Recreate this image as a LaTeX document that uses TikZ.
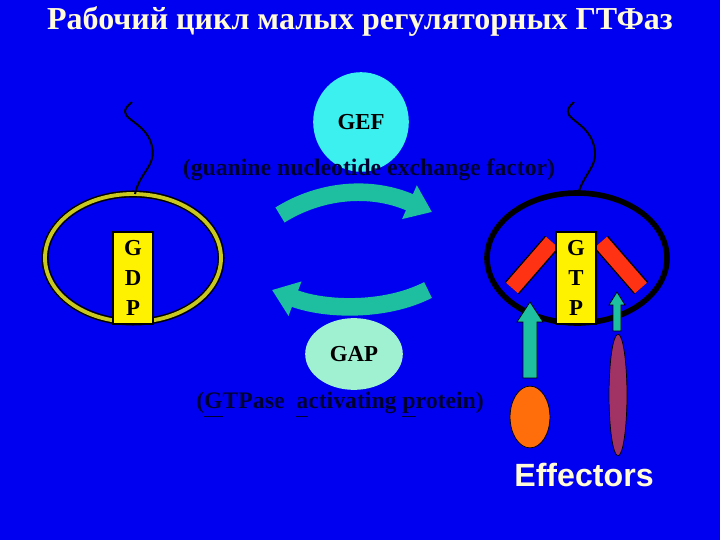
\documentclass[tikz,border=0pt]{standalone}
\usepackage{fontspec}
\setmainfont{Liberation Serif}
\newfontfamily\arialf{Liberation Sans}
\usetikzlibrary{arrows.meta,shapes.geometric}
\definecolor{bg}{RGB}{0,0,240}
\definecolor{cream}{RGB}{255,250,215}
\definecolor{gefc}{RGB}{60,240,240}
\definecolor{gapc}{RGB}{160,240,210}
\definecolor{teal}{RGB}{30,190,160}
\definecolor{olive}{RGB}{200,200,30}
\definecolor{redbar}{RGB}{255,50,20}
\definecolor{navy}{RGB}{0,0,50}
\definecolor{purp}{RGB}{160,50,100}
\definecolor{orng}{RGB}{255,110,10}
\newcommand{\myul}[1]{\underline{\vphantom{p}#1}}
\tikzset{
 px/.style={x=0.02cm,y=-0.02cm},
 letterbox/.style={draw=black,fill=yellow,line width=0.8pt,minimum width=40*0.567pt,minimum height=92*0.567pt,inner sep=0pt,align=center,font=\fontsize{13}{17}\selectfont\bfseries},
 cycarrow/.style={teal,line width=10pt,-{Triangle[width=20pt,length=14pt]}},
 uparrow/.style={teal,draw=black,line width=0.4pt},
 squig/.style={black,line width=1.1pt},
}
\begin{document}
\begin{tikzpicture}[px]
\fill[bg] (0,0) rectangle (720,540);
\node[text=cream,font=\fontsize{18.2}{22}\selectfont\bfseries] (title) at (360,22) {Рабочий цикл малых регуляторных ГТФаз};
% GEF
\node[ellipse,fill=gefc,minimum width=96*0.567pt,minimum height=100*0.567pt,inner sep=0pt,font=\fontsize{13}{15}\selectfont\bfseries] (gef) at (361,122) {GEF};
\node[text=navy,font=\fontsize{13.5}{15}\selectfont\bfseries] (geft) at (369,170) {(guanine nucleotide exchange factor)};
% GAP
\node[ellipse,fill=gapc,minimum width=98*0.567pt,minimum height=72*0.567pt,inner sep=0pt,font=\fontsize{13}{15}\selectfont\bfseries] (gap) at (354,354) {GAP};
\node[text=navy,font=\fontsize{13.5}{15}\selectfont\bfseries] (gapt) at (340,405) {(\myul{G}TPase \ \myul{a}ctivating \myul{p}rotein)};
% cycle arrows
\coordinate (a1) at (280,215);
\coordinate (a2) at (432,212);
\coordinate (b1) at (428,290);
\coordinate (b2) at (272,290);
\draw[cycarrow] (a1) .. controls (320,190) and (370,185) .. (a2);
\draw[cycarrow] (b1) .. controls (385,312) and (325,310) .. (b2);
% left protein
\draw[black,line width=4pt] (133,258) ellipse (88 and 64);
\draw[olive,line width=2.2pt] (133,258) ellipse (88 and 64);
\coordinate (l0) at (135,194);
\coordinate (l1) at (132,102);
\draw[squig] (l0) .. controls (140,170) and (160,165) .. (150,140) .. controls (140,118) and (112,118) .. (l1);
\node[letterbox] (gdp) at (133,278) {G\\D\\P};
% right protein
\draw[black,line width=3.2pt] (577,258) ++(-140:90 and 65) arc[start angle=-140,end angle=220,x radius=90,y radius=65];
\coordinate (r0) at (578,194);
\coordinate (r1) at (574,102);
\draw[squig] (r0) .. controls (585,170) and (602,165) .. (592,140) .. controls (582,118) and (556,118) .. (r1);
\draw[black,line width=10.6pt] (512,288) -- (552,242);
\draw[redbar,line width=9pt] (512,288) -- (552,242);
\draw[black,line width=10.6pt] (641,288) -- (601,242);
\draw[redbar,line width=9pt] (641,288) -- (601,242);
\node[letterbox] (gtp) at (576,278) {G\\T\\P};
% effectors
\node[ellipse,fill=orng,draw=black,line width=0.4pt,minimum width=40*0.567pt,minimum height=62*0.567pt,inner sep=0pt] (e1) at (530,417) {};
\node[ellipse,fill=purp,draw=black,line width=0.4pt,minimum width=18*0.567pt,minimum height=122*0.567pt,inner sep=0pt] (e2) at (618,395) {};
\fill[uparrow] (523,378) -- (523,322) -- (517,322) -- (530,302) -- (543,322) -- (537,322) -- (537,378) -- cycle;
\fill[uparrow] (613,331) -- (613,305) -- (609,305) -- (617,292) -- (625,305) -- (621,305) -- (621,331) -- cycle;
\node[text=cream,font=\arialf\fontsize{18.3}{21}\selectfont\bfseries] (eff) at (584,475) {Effectors};
\end{tikzpicture}
\end{document}
